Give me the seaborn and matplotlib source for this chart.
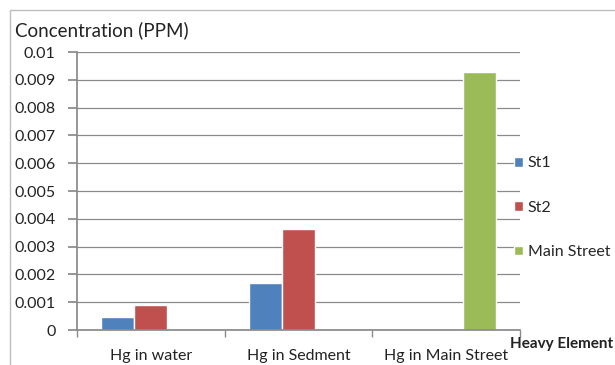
import numpy as np
import pandas as pd
import seaborn as sns
from matplotlib import pyplot as plt
from matplotlib.patches import Rectangle

# data
categories = ["Hg in water", "Hg in Sedment", "Hg in Main Street"]
series = ["St1", "St2", "Main Street"]
st1 = [0.00045, 0.00168, 0.0]
st2 = [0.00089, 0.00362, 0.0]
main_street = [0.0, 0.0, 0.00928]
y_ticks = [0, 0.001, 0.002, 0.003, 0.004, 0.005, 0.006, 0.007, 0.008, 0.009, 0.01]
y_tick_labels = ["0", "0.001", "0.002", "0.003", "0.004", "0.005",
                 "0.006", "0.007", "0.008", "0.009", "0.01"]
colors = ["#4F81BD", "#C0504D", "#9BBB59"]

df = pd.DataFrame({
    "Category": categories * 3,
    "Series": [s for s in series for _ in categories],
    "Value": st1 + st2 + main_street,
})

sns.set_theme(style="white")
plt.rcParams['font.family'] = ['Lato', 'DejaVu Sans']

fig = plt.figure(figsize=(6.15, 3.65), dpi=100)
fig.patches.append(Rectangle((10 / 615, -0.1), 1.2, (355 / 365) + 0.1,
                             transform=fig.transFigure, fill=False,
                             edgecolor="#bdbdbd", linewidth=1.0))

ax = fig.add_axes([77 / 615, 35 / 365, 443 / 615, 278 / 365])
sns.barplot(data=df, x="Category", y="Value", hue="Series", palette=colors,
            width=0.67, saturation=1, ax=ax, legend=False)

ax.set_ylim(0, 0.01)
ax.set_xlim(-0.5, 2.5)
ax.set_yticks(y_ticks)
ax.set_yticklabels(y_tick_labels, fontsize=11.5, color="#222222")
ax.grid(axis="y", color="#8a8a8a", linewidth=0.9)
ax.set_axisbelow(True)
for side in ["top", "right"]:
    ax.spines[side].set_visible(False)
ax.spines["left"].set_color("#8a8a8a")
ax.spines["bottom"].set_color("#8a8a8a")
ax.tick_params(axis="y", which="major", direction="out", length=6.5, color="#8a8a8a", pad=9, left=True)
ax.tick_params(axis="x", which="major", length=0, labelsize=11.5, labelcolor="#222222", pad=14)
ax.set_xticks([-0.5, 0.5, 1.5, 2.5], minor=True)
ax.tick_params(axis="x", which="minor", direction="out", length=5, color="#8a8a8a", bottom=True)
ax.set_xlabel("")
ax.set_ylabel("")

handles = [Rectangle((0, 0), 1, 1, facecolor=c) for c in colors]
fig.legend(handles, series, loc="upper left", bbox_to_anchor=(500 / 615, 1 - 142 / 365),
           frameon=False, fontsize=11.5, handlelength=0.55, handleheight=0.55,
           handletextpad=0.3, labelspacing=1.9)

fig.text(15 / 615, 1 - 30 / 365, "Concentration (PPM)", fontsize=13.5, va="center", color="#222222")
fig.text(510 / 615, 1 - 344 / 365, "Heavy Element", fontsize=11, fontweight="bold",
         va="center", color="#222222")

fig.savefig("out.png", dpi=100)
